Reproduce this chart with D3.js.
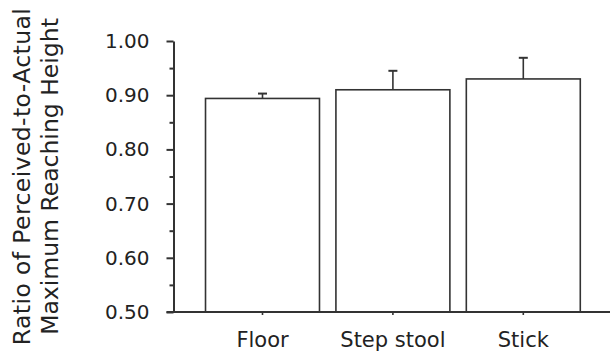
<!DOCTYPE html>
<html>
<head>
<meta charset="utf-8">
<script src="https://cdn.jsdelivr.net/npm/d3@7"></script>
<style>
  html, body { margin: 0; padding: 0; background: #fff; }
  svg { display: block; }
  text { font-family: "DejaVu Sans", Verdana, sans-serif; fill: #222; }
</style>
</head>
<body>
<svg id="chart" width="610" height="353"></svg>
<script>
const categories = ["Floor", "Step stool", "Stick"];
const means = [0.894, 0.910, 0.930];
const errors = [0.009, 0.035, 0.039];
const majorTicks = [0.50, 0.60, 0.70, 0.80, 0.90, 1.00];
const minorTicks = [0.55, 0.65, 0.75, 0.85, 0.95];
const yTitleLines = ["Ratio of Perceived-to-Actual", "Maximum Reaching Height"];

const W = 610, H = 353;
const axisX = 173.5;
const svg = d3.select("#chart");

const y = d3.scaleLinear().domain([0.5, 1.0]).range([312, 41]);
const x = d3.scaleBand().domain(categories).range([197.3, 588.5])
  .paddingInner(0.126).paddingOuter(0.063);

const stroke = "#333";

// bars
const g = svg.append("g");
g.selectAll("rect.bar").data(categories).join("rect")
  .attr("class", "bar")
  .attr("x", d => x(d))
  .attr("width", x.bandwidth())
  .attr("y", (d, i) => y(means[i]))
  .attr("height", (d, i) => y(0.5) - y(means[i]))
  .attr("fill", "#fff")
  .attr("stroke", stroke)
  .attr("stroke-width", 1.6);

// error bars
g.selectAll("line.err").data(categories).join("line")
  .attr("x1", d => x(d) + x.bandwidth() / 2)
  .attr("x2", d => x(d) + x.bandwidth() / 2)
  .attr("y1", (d, i) => y(means[i]))
  .attr("y2", (d, i) => y(means[i] + errors[i]))
  .attr("stroke", stroke).attr("stroke-width", 1.6);
g.selectAll("line.cap").data(categories).join("line")
  .attr("x1", d => x(d) + x.bandwidth() / 2 - 4.5)
  .attr("x2", d => x(d) + x.bandwidth() / 2 + 4.5)
  .attr("y1", (d, i) => y(means[i] + errors[i]))
  .attr("y2", (d, i) => y(means[i] + errors[i]))
  .attr("stroke", stroke).attr("stroke-width", 2);

// y axis minor
const yMinor = svg.append("g").attr("transform", `translate(${axisX},0)`)
  .call(d3.axisLeft(y).tickValues(minorTicks).tickSize(4).tickSizeOuter(0).tickFormat(""));
yMinor.select(".domain").remove();
yMinor.selectAll("line").attr("stroke", stroke).attr("stroke-width", 2);

// y axis major
const yAxis = svg.append("g").attr("transform", `translate(${axisX},0)`)
  .call(d3.axisLeft(y).tickValues(majorTicks).tickSize(7).tickSizeOuter(0).tickPadding(17)
    .tickFormat(d3.format(".2f")));
yAxis.select(".domain").attr("stroke", stroke).attr("stroke-width", 2);
yAxis.selectAll(".tick line").attr("stroke", stroke).attr("stroke-width", 2);
yAxis.selectAll("text").style("font-size", "20px").attr("fill", "#222")
  .style("font-family", '"DejaVu Sans", Verdana, sans-serif');

// x axis
const xAxis = svg.append("g").attr("transform", `translate(0,${y(0.5)})`)
  .call(d3.axisBottom(x).tickSize(3).tickSizeOuter(0).tickPadding(17));
xAxis.select(".domain").remove();
xAxis.selectAll(".tick line").attr("stroke", stroke).attr("stroke-width", 1.6);
xAxis.selectAll("text").style("font-size", "21px").attr("fill", "#222")
  .style("font-family", '"DejaVu Sans", Verdana, sans-serif');
svg.append("line")
  .attr("x1", axisX - 7).attr("x2", W)
  .attr("y1", y(0.5)).attr("y2", y(0.5))
  .attr("stroke", stroke).attr("stroke-width", 2.2);

// y title
const midY = (y(0.5) + y(1.0)) / 2;
const title = svg.append("text")
  .attr("transform", `translate(30,${midY}) rotate(-90)`)
  .attr("text-anchor", "middle")
  .style("font-size", "23.5px")
  .attr("fill", "#2a2a2a");
title.selectAll("tspan").data(yTitleLines).join("tspan")
  .attr("x", 0)
  .attr("dy", (d, i) => i === 0 ? 0 : 27.5)
  .style("letter-spacing", (d, i) => i === 0 ? "0.4px" : "0px")
  .text(d => d);
</script>
</body>
</html>
